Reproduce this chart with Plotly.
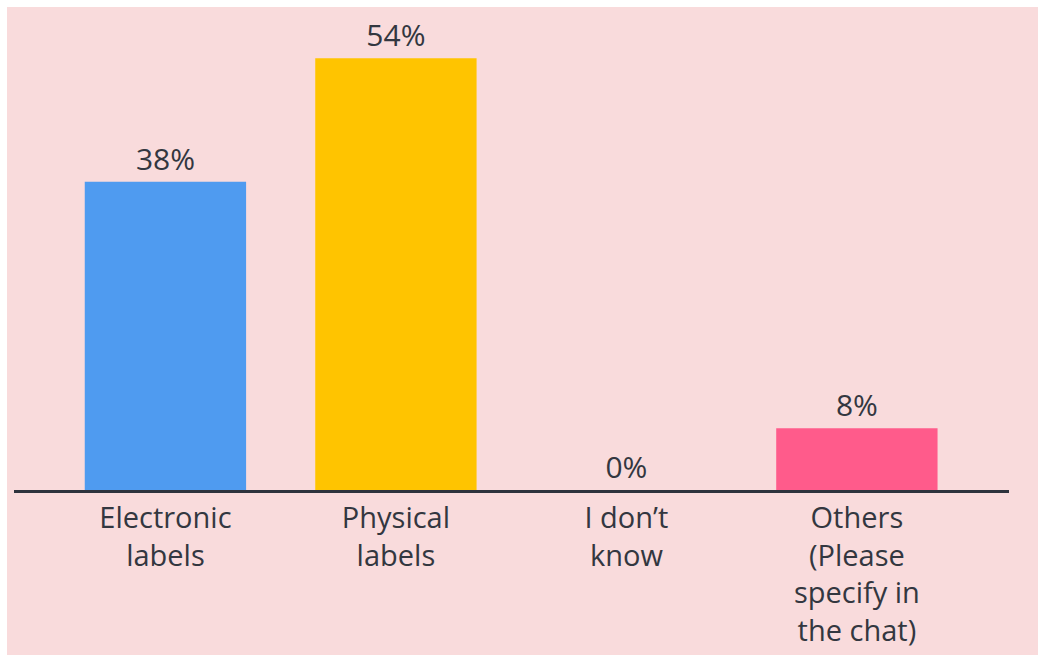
import plotly.graph_objects as go

categories = ["Electronic<br>labels", "Physical<br>labels", "I don’t<br>know",
              "Others<br>(Please<br>specify in<br>the chat)"]
values = [38.46, 53.85, 0, 7.69]
labels = ["38%", "54%", "0%", "8%"]
colors = ["#4f9bf0", "#ffc400", "#ff5b8b", "#ff5b8b"]

W, H = 1038, 655
L, R, T, B = 14, 29, 9, 165
pw, ph = W - L - R, H - T - B
FONT = "Open Sans"

fig = go.Figure(go.Bar(
    x=categories, y=values, text=labels, textposition="outside",
    marker=dict(color=colors, line=dict(width=0)),
    width=0.7, cliponaxis=False,
    textfont=dict(size=30, color="#333740", family=FONT),
))

fig.add_shape(type="rect", xref="paper", yref="paper",
              x0=(7 - L) / pw, x1=(W - L) / pw,
              y0=-(H - T - ph) / ph, y1=(T + ph - 7) / ph,
              fillcolor="#f9dbdc", line=dict(width=0), layer="below")

fig.update_layout(
    width=W, height=H,
    margin=dict(l=L, r=R, t=T, b=B, pad=0, autoexpand=False),
    paper_bgcolor="white", plot_bgcolor="rgba(0,0,0,0)",
    showlegend=False,
    font=dict(family=FONT, color="#333740"),
)
fig.update_xaxes(range=[-0.657, 3.66], showline=True, linewidth=3, linecolor="#2e333d",
                 ticks="", automargin=False,
                 tickfont=dict(size=29, color="#333740", family=FONT), showgrid=False)
fig.update_yaxes(range=[0, 60], visible=False, showgrid=False, zeroline=False,
                 automargin=False)

fig.write_html("out.html")
